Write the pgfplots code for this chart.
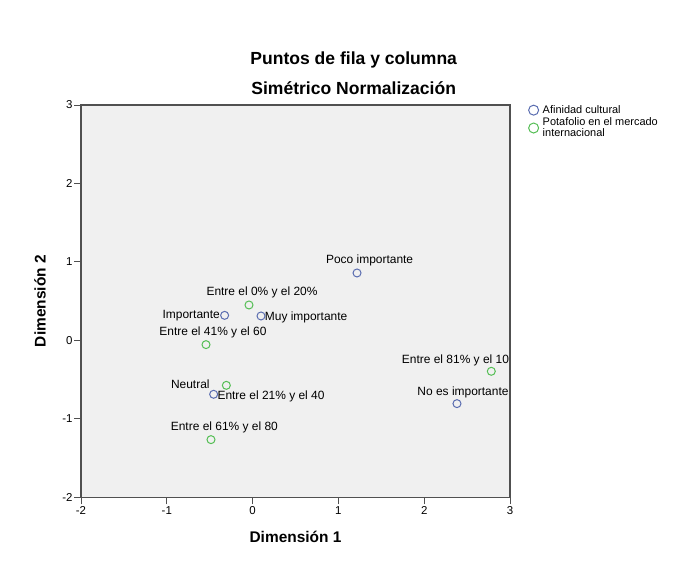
\documentclass[border=0pt]{standalone}
\usepackage{pgfplots}
\pgfplotsset{compat=1.18}
\usepackage{fontspec}
\setmainfont{Liberation Sans}

\definecolor{spssblue}{HTML}{5A6DB0}
\definecolor{spssgreen}{HTML}{55BE55}
\definecolor{plotbg}{HTML}{F0F0F0}
\definecolor{framegray}{HTML}{505050}

\newcommand{\lbl}{\fontsize{12}{14}\selectfont}

\begin{document}
\begin{tikzpicture}
\path[use as bounding box] (0,0) rectangle (693bp,574bp);

% titulo
\node[font=\bfseries\fontsize{17.6}{19}\selectfont] at (353.7bp,514bp) {Puntos de fila y columna};
\node[font=\bfseries\fontsize{17.6}{19}\selectfont] at (353.7bp,486bp) {Simétrico Normalización};

\begin{axis}[
    at={(81bp,76.7bp)}, anchor=south west,
    scale only axis,
    width=429bp, height=392.3bp,
    xmin=-2, xmax=3, ymin=-2, ymax=3,
    xtick={-2,-1,0,1,2,3},
    ytick={-2,-1,0,1,2,3},
    axis background/.style={fill=plotbg},
    axis line style={framegray, line width=1.3bp},
    tick style={framegray, line width=0.9bp},
    tick align=outside,
    major tick length=7bp,
    xtick pos=bottom, ytick pos=left,
    /pgf/number format/assume math mode=true,
    tick label style={font=\fontsize{11.5}{13}\selectfont},
    xticklabel style={yshift=1bp},
    yticklabel style={xshift=2bp},
    xlabel={Dimensión 1}, ylabel={Dimensión 2},
    xlabel style={font=\bfseries\fontsize{15.5}{17}\selectfont, at={(axis description cs:0.5,-0.1004)}, anchor=center},
    ylabel style={font=\bfseries\fontsize{15.5}{17}\selectfont, at={(axis description cs:-0.0956,0.5)}, anchor=center},
    clip=false,
    legend style={at={(axis description cs:1.036,1.006)}, anchor=north west,
        draw=none, fill=none, font=\fontsize{11}{11.5}\selectfont,
        nodes={align=left, inner sep=0.6bp}, row sep=1.5bp, column sep=3.5bp},
    legend image post style={mark size=5bp},
    legend image code/.code={\draw[#1] plot coordinates {(0.32cm,0cm)};},
    legend cell align=left,
]
% Afinidad cultural
\addplot[only marks, mark=o, mark size=4bp, spssblue, mark options={line width=1bp}]
  coordinates {(1.217,0.859) (-0.326,0.319) (0.098,0.311) (-0.454,-0.687) (2.382,-0.806)};
% Potafolio en el mercado internacional
\addplot[only marks, mark=o, mark size=4bp, spssgreen, mark options={line width=1bp}]
  coordinates {(-0.042,0.451) (-0.543,-0.054) (-0.306,-0.573) (-0.485,-1.265) (2.782,-0.394)};
\legend{Afinidad cultural, {Potafolio en el mercado\\internacional}}

\node[font=\lbl] at (axis cs:1.364,1.020) {Poco importante};
\node[font=\lbl] at (axis cs:0.110,0.608) {Entre el 0\% y el 20\%};
\node[font=\lbl, anchor=east, inner sep=0pt] at (axis cs:-0.380,0.311) {Importante};
\node[font=\lbl, anchor=west, inner sep=0pt] at (axis cs:0.141,0.298) {Muy importante};
\node[font=\lbl] at (axis cs:-0.462,0.103) {Entre el 41\% y el 60};
\node[font=\lbl, anchor=east, inner sep=0pt] at (axis cs:2.99,-0.258) {Entre el 81\% y el 10};
\node[font=\lbl] at (axis cs:-0.726,-0.564) {Neutral};
\node[font=\lbl, anchor=west, inner sep=0pt] at (axis cs:-0.411,-0.709) {Entre el 21\% y el 40};
\node[font=\lbl] at (axis cs:2.452,-0.658) {No es importante};
\node[font=\lbl] at (axis cs:-0.329,-1.112) {Entre el 61\% y el 80};
\end{axis}
\end{tikzpicture}
\end{document}
